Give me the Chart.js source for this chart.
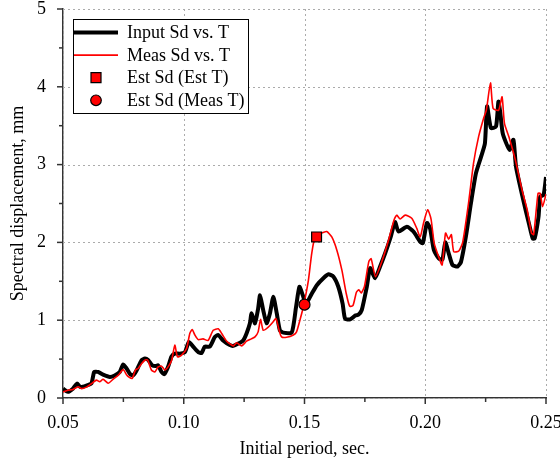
<!DOCTYPE html>
<html>
<head>
<meta charset="utf-8">
<title>Spectral displacement vs. period</title>
<script src="https://cdn.jsdelivr.net/npm/chart.js@4.4.0/dist/chart.umd.min.js"></script>
<style>
  html, body { margin: 0; padding: 0; background: #fff; }
  canvas { display: block; }
</style>
</head>
<body>
<canvas id="sdChart" width="560" height="463"></canvas>
<script>
// Input spectrum (period in sec, Sd in mm)
const inputT = [
  0.0500, 0.0520, 0.0541, 0.0558, 0.0572, 0.0597, 0.0618, 0.0629, 0.0645, 0.0666,
  0.0694, 0.0714, 0.0735, 0.0749, 0.0763, 0.0777, 0.0790, 0.0804, 0.0825, 0.0839,
  0.0852, 0.0869, 0.0883, 0.0894, 0.0908, 0.0919, 0.0935, 0.0949, 0.0963, 0.0984,
  0.1005, 0.1021, 0.1039, 0.1060, 0.1074, 0.1087, 0.1108, 0.1129, 0.1143, 0.1163,
  0.1191, 0.1205, 0.1226, 0.1246, 0.1260, 0.1274, 0.1281, 0.1295, 0.1308, 0.1316,
  0.1329, 0.1343, 0.1357, 0.1371, 0.1385, 0.1398, 0.1412, 0.1447, 0.1465, 0.1479,
  0.1493, 0.1506, 0.1530, 0.1551, 0.1578, 0.1599, 0.1620, 0.1640, 0.1658, 0.1668,
  0.1689, 0.1710, 0.1723, 0.1737, 0.1758, 0.1772, 0.1792, 0.1813, 0.1834, 0.1855,
  0.1875, 0.1889, 0.1924, 0.1951, 0.1979, 0.1990, 0.2007, 0.2020, 0.2036, 0.2057,
  0.2071, 0.2083, 0.2099, 0.2113, 0.2134, 0.2148, 0.2168, 0.2189, 0.2210, 0.2231,
  0.2247, 0.2256, 0.2272, 0.2293, 0.2303, 0.2311, 0.2321, 0.2349, 0.2365, 0.2376,
  0.2404, 0.2431, 0.2445, 0.2453, 0.2469, 0.2476, 0.2490, 0.2500
];
const inputSd = [
  0.12, 0.08, 0.12, 0.185, 0.14, 0.16, 0.19, 0.335, 0.335, 0.30,
  0.27, 0.29, 0.335, 0.43, 0.38, 0.31, 0.29, 0.35, 0.485, 0.507,
  0.49, 0.42, 0.41, 0.42, 0.335, 0.305, 0.40, 0.53, 0.57, 0.57,
  0.59, 0.72, 0.66, 0.59, 0.58, 0.66, 0.66, 0.785, 0.81, 0.74,
  0.68, 0.67, 0.70, 0.74, 0.83, 0.96, 1.09, 0.96, 1.15, 1.32,
  1.13, 0.96, 1.09, 1.30, 1.09, 0.87, 0.84, 0.84, 1.17, 1.43,
  1.32, 1.21, 1.34, 1.45, 1.54, 1.59, 1.56, 1.43, 1.21, 1.02,
  1.01, 1.06, 1.07, 1.13, 1.43, 1.67, 1.54, 1.69, 1.86, 2.05,
  2.26, 2.14, 2.20, 2.14, 2.01, 1.99, 2.25, 2.18, 1.90, 1.79,
  1.78, 2.00, 1.84, 1.71, 1.69, 1.75, 2.07, 2.50, 2.89, 3.10,
  3.27, 3.75, 3.47, 3.49, 3.81, 3.66, 3.40, 3.19, 3.32, 2.97,
  2.57, 2.22, 2.05, 2.05, 2.33, 2.59, 2.61, 2.84
];

// Measured spectrum
const measT = [
  0.0500, 0.0520, 0.0541, 0.0563, 0.0576, 0.0597, 0.0618, 0.0638, 0.0652, 0.0666,
  0.0687, 0.0707, 0.0728, 0.0749, 0.0763, 0.0773, 0.0786, 0.0800, 0.0811, 0.0825,
  0.0839, 0.0850, 0.0866, 0.0880, 0.0894, 0.0908, 0.0922, 0.0935, 0.0950, 0.0963,
  0.0974, 0.0991, 0.1012, 0.1025, 0.1035, 0.1046, 0.1060, 0.1080, 0.1101, 0.1122,
  0.1143, 0.1157, 0.1178, 0.1205, 0.1219, 0.1240, 0.1260, 0.1280, 0.1295, 0.1308,
  0.1318, 0.1329, 0.1350, 0.1368, 0.1382, 0.1395, 0.1405, 0.1426, 0.1454, 0.1467,
  0.1481, 0.1495, 0.1516, 0.1530, 0.1544, 0.1571, 0.1592, 0.1613, 0.1634, 0.1655,
  0.1673, 0.1687, 0.1701, 0.1715, 0.1725, 0.1735, 0.1748, 0.1766, 0.1776, 0.1794,
  0.1822, 0.1850, 0.1871, 0.1882, 0.1896, 0.1917, 0.1944, 0.1965, 0.1979, 0.1993,
  0.2010, 0.2024, 0.2037, 0.2055, 0.2070, 0.2084, 0.2097, 0.2108, 0.2118, 0.2139,
  0.2155, 0.2179, 0.2200, 0.2221, 0.2242, 0.2253, 0.2270, 0.2281, 0.2304, 0.2318,
  0.2328, 0.2346, 0.2373, 0.2401, 0.2422, 0.2440, 0.2449, 0.2467, 0.2476, 0.2486,
  0.2500
];
const measSd = [
  0.077, 0.10, 0.11, 0.145, 0.12, 0.14, 0.185, 0.23, 0.21, 0.24,
  0.19, 0.24, 0.29, 0.365, 0.30, 0.27, 0.25, 0.36, 0.38, 0.44,
  0.485, 0.49, 0.36, 0.335, 0.40, 0.41, 0.36, 0.40, 0.485, 0.68,
  0.53, 0.55, 0.64, 0.83, 0.88, 0.81, 0.75, 0.76, 0.74, 0.87,
  0.89, 0.83, 0.73, 0.67, 0.71, 0.67, 0.73, 0.76, 0.785, 0.85,
  1.01, 0.87, 0.91, 0.97, 1.02, 0.87, 0.785, 0.78, 0.81, 0.85,
  1.00, 1.17, 1.51, 1.86, 2.07, 2.12, 2.14, 2.07, 1.90, 1.64,
  1.34, 1.18, 1.19, 1.36, 1.39, 1.35, 1.43, 1.75, 1.79, 1.56,
  1.77, 2.05, 2.29, 2.35, 2.30, 2.35, 2.31, 2.18, 2.07, 2.25,
  2.42, 2.30, 1.99, 1.82, 1.71, 2.12, 2.04, 2.10, 1.88, 1.89,
  2.00, 2.50, 3.02, 3.36, 3.60, 3.70, 4.05, 3.72, 3.70, 3.87,
  3.53, 3.36, 3.06, 2.67, 2.42, 2.12, 2.10, 2.63, 2.63, 2.46,
  2.62
];

// Single estimated points
const estT = [0.155];
const estSdAtEstT = [2.07];
const measTPoint = [0.15];
const estSdAtMeasT = [1.2];

const seriesNames = ["Input Sd vs. T", "Meas Sd vs. T", "Est Sd (Est T)", "Est Sd (Meas T)"];
const xTicks = [0.05, 0.10, 0.15, 0.20, 0.25];
const yTicks = [0, 1, 2, 3, 4, 5];

const FONT = "'Liberation Serif', 'Times New Roman', serif";
const AXIS_COLOR = "#333";
const GRID_COLOR = "#ababab";

function toPoints(xs, ys) {
  return xs.map((x, i) => ({ x: x, y: ys[i] }));
}

// dotted grid at the major ticks, including the top and right edges
const dottedGrid = {
  id: "dottedGrid",
  beforeDatasetsDraw(chart) {
    const { ctx, chartArea, scales } = chart;
    ctx.save();
    ctx.strokeStyle = GRID_COLOR;
    ctx.lineWidth = 1;
    ctx.setLineDash([2, 3]);
    xTicks.forEach((v) => {
      const px = Math.round(scales.x.getPixelForValue(v)) + 0.5;
      ctx.beginPath();
      ctx.moveTo(px, chartArea.top);
      ctx.lineTo(px, chartArea.bottom);
      ctx.stroke();
    });
    yTicks.forEach((v) => {
      const py = Math.round(scales.y.getPixelForValue(v)) + 0.5;
      ctx.beginPath();
      ctx.moveTo(chartArea.left, py);
      ctx.lineTo(chartArea.right, py);
      ctx.stroke();
    });
    ctx.restore();
  },
};

// tick marks (major + half-step minor), drawn outside the plot
const axisTicks = {
  id: "axisTicks",
  afterDraw(chart) {
    const { ctx, chartArea, scales } = chart;
    ctx.save();
    ctx.strokeStyle = AXIS_COLOR;
    ctx.lineWidth = 1.5;
    const seg = (x1, y1, x2, y2) => {
      ctx.beginPath();
      ctx.moveTo(x1, y1);
      ctx.lineTo(x2, y2);
      ctx.stroke();
    };
    xTicks.forEach((v, i) => {
      const px = scales.x.getPixelForValue(v);
      seg(px, chartArea.bottom, px, chartArea.bottom + 6);
      if (i < xTicks.length - 1) {
        const mx = scales.x.getPixelForValue((v + xTicks[i + 1]) / 2);
        seg(mx, chartArea.bottom, mx, chartArea.bottom + 4);
      }
    });
    yTicks.forEach((v, i) => {
      const py = scales.y.getPixelForValue(v);
      seg(chartArea.left, py, chartArea.left - 6, py);
      if (i < yTicks.length - 1) {
        const my = scales.y.getPixelForValue((v + yTicks[i + 1]) / 2);
        seg(chartArea.left, my, chartArea.left - 4, my);
      }
    });
    ctx.restore();
  },
};

// boxed legend in the upper left corner of the plot
const boxLegend = {
  id: "boxLegend",
  afterDraw(chart) {
    const { ctx, chartArea } = chart;
    const datasets = chart.data.datasets;
    const left = chartArea.left + 10;
    const top = chartArea.top + 10;
    const width = 175;
    const rowH = 22.6;
    const height = 94;

    ctx.save();
    ctx.fillStyle = "#fff";
    ctx.fillRect(left, top, width, height);
    ctx.strokeStyle = "#000";
    ctx.lineWidth = 1;
    ctx.strokeRect(left + 0.5, top + 0.5, width, height);

    ctx.font = "18px " + FONT;
    ctx.textBaseline = "middle";
    ctx.textAlign = "left";

    datasets.forEach((ds, i) => {
      const cy = top + 13.5 + i * rowH;
      const cx = left + 23;
      if (ds.showLine !== false) {
        ctx.strokeStyle = ds.borderColor;
        ctx.lineWidth = ds.borderWidth;
        ctx.beginPath();
        ctx.moveTo(left + 1, cy);
        ctx.lineTo(left + 45, cy);
        ctx.stroke();
      } else {
        ctx.fillStyle = ds.pointBackgroundColor;
        ctx.strokeStyle = ds.pointBorderColor;
        ctx.lineWidth = ds.pointBorderWidth;
        ctx.beginPath();
        if (ds.pointStyle === "rect") {
          ctx.rect(cx - 5, cy - 5, 10, 10);
        } else {
          ctx.arc(cx, cy, 5.3, 0, Math.PI * 2);
        }
        ctx.fill();
        ctx.stroke();
      }
      ctx.fillStyle = "#000";
      ctx.fillText(ds.label, left + 54, cy + 1);
    });
    ctx.restore();
  },
};

document.addEventListener("DOMContentLoaded", function () {
  const ctx = document.getElementById("sdChart").getContext("2d");

  new Chart(ctx, {
    type: "line",
    data: {
      datasets: [
        {
          label: seriesNames[0],
          data: toPoints(inputT, inputSd),
          borderColor: "#000000",
          borderWidth: 4,
          pointRadius: 0,
          tension: 0.2,
          order: 4,
        },
        {
          label: seriesNames[1],
          data: toPoints(measT, measSd),
          borderColor: "#ff0000",
          borderWidth: 1.6,
          pointRadius: 0,
          tension: 0.2,
          order: 3,
        },
        {
          label: seriesNames[2],
          data: toPoints(estT, estSdAtEstT),
          showLine: false,
          pointStyle: "rect",
          pointRadius: 7,
          pointBackgroundColor: "#ff0000",
          pointBorderColor: "#000000",
          pointBorderWidth: 1.2,
          order: 2,
        },
        {
          label: seriesNames[3],
          data: toPoints(measTPoint, estSdAtMeasT),
          showLine: false,
          pointStyle: "circle",
          pointRadius: 5.5,
          pointBackgroundColor: "#ff0000",
          pointBorderColor: "#000000",
          pointBorderWidth: 1.2,
          order: 1,
        },
      ],
    },
    options: {
      responsive: false,
      animation: false,
      devicePixelRatio: 1,
      layout: {
        padding: { top: 9, right: 14, bottom: 0, left: 0 },
      },
      plugins: {
        legend: { display: false },
        tooltip: { enabled: false },
      },
      scales: {
        x: {
          type: "linear",
          min: 0.05,
          max: 0.25,
          afterBuildTicks: (axis) => {
            axis.ticks = xTicks.map((v) => ({ value: v }));
          },
          afterFit: (axis) => {
            axis.height = 65;
            axis.paddingLeft = 0;
            axis.paddingRight = 0;
          },
          ticks: {
            autoSkip: false,
            maxRotation: 0,
            padding: 6,
            color: "#000",
            font: { family: FONT, size: 18 },
            callback: (v) => Number(v).toFixed(2),
          },
          grid: { display: false },
          border: {
            display: true,
            color: AXIS_COLOR,
            width: 1.5,
          },
          title: {
            display: true,
            text: "Initial period, sec.",
            color: "#000",
            font: { family: FONT, size: 18 },
            padding: { top: 0, bottom: 3 },
          },
        },
        y: {
          type: "linear",
          min: 0,
          max: 5,
          afterBuildTicks: (axis) => {
            axis.ticks = yTicks.map((v) => ({ value: v }));
          },
          afterFit: (axis) => {
            axis.width = 63;
            axis.paddingTop = 0;
            axis.paddingBottom = 0;
          },
          ticks: {
            padding: 9,
            color: "#000",
            font: { family: FONT, size: 18 },
            callback: (v) => String(v),
          },
          grid: { display: false },
          border: {
            display: true,
            color: AXIS_COLOR,
            width: 1.5,
          },
          title: {
            display: true,
            text: "Spectral displacement, mm",
            color: "#000",
            font: { family: FONT, size: 18 },
            padding: { top: 7, bottom: 0 },
          },
        },
      },
    },
    plugins: [dottedGrid, axisTicks, boxLegend],
  });
});
</script>
</body>
</html>
